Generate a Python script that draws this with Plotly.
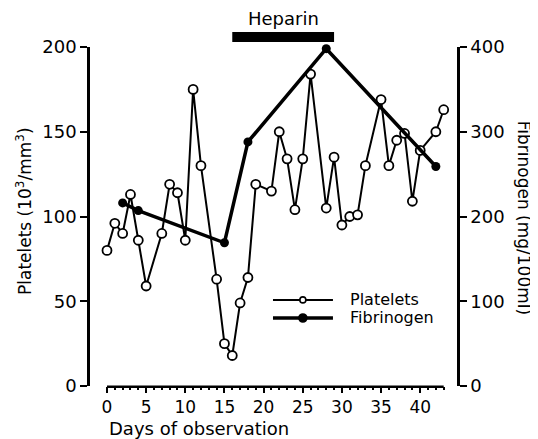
import plotly.graph_objects as go

# ---- data ----
platelet_days = [0, 1, 2, 3, 4, 5, 7, 8, 9, 10, 11, 12, 14, 15, 16, 17, 18, 19,
                 21, 22, 23, 24, 25, 26, 28, 29, 30, 31, 32, 33, 35, 36, 37, 38,
                 39, 40, 42, 43]
platelets = [80, 96, 90, 113, 86, 59, 90, 119, 114, 86, 175, 130, 63, 25, 18, 49,
             64, 119, 115, 150, 134, 104, 134, 184, 105, 135, 95, 100, 101, 130,
             169, 130, 145, 149, 109, 139, 150, 163]

fibrinogen_days = [2, 4, 15, 18, 28, 42]
fibrinogen = [216, 207, 169, 288, 398, 259]

heparin_days = [16, 29]

x_ticks = [0, 5, 10, 15, 20, 25, 30, 35, 40]
x_minor = list(range(0, 44))
y_left_ticks = [0, 50, 100, 150, 200]
y_right_ticks = [0, 100, 200, 300, 400]

FONT = "DejaVu Sans"

fig = go.Figure()

fig.add_trace(go.Scatter(
    x=fibrinogen_days, y=fibrinogen, yaxis="y2", name="Fibrinogen",
    mode="lines+markers", cliponaxis=False,
    line=dict(color="black", width=3.5),
    marker=dict(symbol="circle", size=9, color="black"),
    showlegend=False,
))
fig.add_trace(go.Scatter(
    x=platelet_days, y=platelets, name="Platelets",
    mode="lines+markers", cliponaxis=False,
    line=dict(color="black", width=2),
    marker=dict(symbol="circle", size=9, color="white",
                line=dict(color="black", width=1.8)),
    showlegend=False,
))

# page body has an 8px margin: shrink figure accordingly
W, H = 530, 431
mL, mR, mT, mB = 82, 81, 39, 53

fig.update_layout(
    width=W, height=H,
    margin=dict(l=mL, r=mR, t=mT, b=mB),
    plot_bgcolor="white", paper_bgcolor="white",
    font=dict(family=FONT, color="black", size=17),
    showlegend=False,
    xaxis=dict(range=[-2.17, 44.7], showgrid=False, zeroline=False, showline=False,
               tickmode="array", tickvals=x_ticks, ticks="outside", ticklen=6,
               tickwidth=2, tickcolor="black",
               tickfont=dict(size=17, family=FONT),
               minor=dict(tickmode="array", tickvals=x_minor, ticks="outside",
                          ticklen=3, tickwidth=1.5, tickcolor="black")),
    yaxis=dict(range=[0, 200], showgrid=False, zeroline=False, showline=True,
               linecolor="black", linewidth=2.5, tickmode="array",
               tickvals=y_left_ticks, ticks="outside", ticklen=7, tickwidth=2,
               tickcolor="black", tickfont=dict(size=18, family=FONT)),
    yaxis2=dict(range=[0, 400], overlaying="y", side="right", showgrid=False,
                zeroline=False, showline=True, linecolor="black", linewidth=2.5,
                tickmode="array", tickvals=y_right_ticks, ticks="outside",
                ticklen=7, tickwidth=2, tickcolor="black",
                tickfont=dict(size=18, family=FONT)),
)

# x-axis line spanning the observation period only
fig.add_shape(type="line", xref="x", yref="paper",
              x0=platelet_days[0], x1=platelet_days[-1], y0=-0.002, y1=-0.002,
              line=dict(color="black", width=2.5))

# heparin bar
fig.add_shape(type="line", xref="x", yref="paper",
              x0=heparin_days[0], x1=heparin_days[1], y0=1.0295, y1=1.0295,
              line=dict(color="black", width=10))
fig.add_annotation(x=sum(heparin_days) / 2, xref="x", y=1.083, yref="paper",
                   xanchor="center", yanchor="middle",
                   text="Heparin", showarrow=False,
                   font=dict(size=18, family=FONT))

# axis titles
fig.add_annotation(x=0, xref="x", xanchor="left", y=-0.124, yref="paper",
                   yanchor="middle",
                   text="Days of observation", showarrow=False,
                   font=dict(size=18, family=FONT))
fig.add_annotation(x=-0.18, xref="paper", y=0.516, yref="paper",
                   xanchor="center", yanchor="middle",
                   text="Platelets (10<sup>3</sup>/mm<sup>3</sup>)",
                   textangle=-90, showarrow=False,
                   font=dict(size=17, family=FONT))
fig.add_annotation(x=1.183, xref="paper", y=0.496, yref="paper",
                   xanchor="center", yanchor="middle",
                   text="Fibrinogen (mg/100ml)", textangle=90, showarrow=False,
                   font=dict(size=17, family=FONT))

# legend (drawn by hand to match the long key lines)
legend_rows = [("Platelets", 0.254, 2, "white", 6),
               ("Fibrinogen", 0.2006, 3.5, "black", 8)]
for label, ly, lw, fill, msize in legend_rows:
    fig.add_shape(type="line", xref="paper", yref="paper",
                  x0=0.4986, x1=0.662, y0=ly, y1=ly,
                  line=dict(color="black", width=lw))
    fig.add_shape(type="circle", xref="paper", yref="paper",
                  xsizemode="pixel", ysizemode="pixel",
                  xanchor=0.580, yanchor=ly,
                  x0=-msize / 2, x1=msize / 2, y0=-msize / 2, y1=msize / 2,
                  fillcolor=fill, line=dict(color="black", width=1.6))
    fig.add_annotation(x=0.703, xref="paper", y=ly, yref="paper",
                       xanchor="left", yanchor="middle", text=label,
                       showarrow=False, font=dict(size=16, family=FONT))

fig.write_html("out.html")
